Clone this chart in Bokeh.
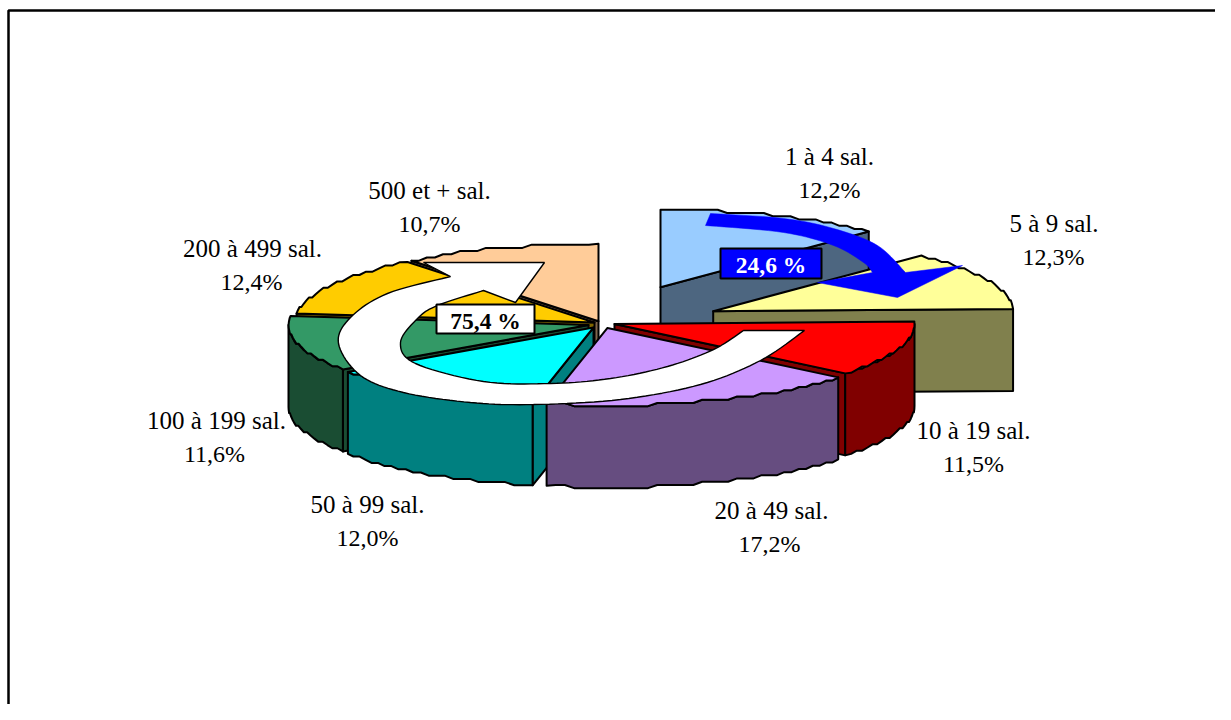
import numpy as np
from bokeh.plotting import figure
from bokeh.models import Range1d
from bokeh.core.properties import value
from bokeh.embed import file_html
from bokeh.resources import INLINE

categories = ["1 à 4 sal.", "5 à 9 sal.", "10 à 19 sal.", "20 à 49 sal.",
              "50 à 99 sal.", "100 à 199 sal.", "200 à 499 sal.", "500 et + sal."]
shares = [12.2, 12.3, 11.5, 17.2, 12.0, 11.6, 12.4, 10.7]
share_labels = ["12,2%", "12,3%", "11,5%", "17,2%", "12,0%", "11,6%", "12,4%", "10,7%"]
group_labels = ["24,6 %", "75,4 %"]

top_colors = ["#99CCFF", "#FFFF99", "#FF0000", "#CC99FF", "#00FFFF", "#339966", "#FFCC00", "#FFCC99"]
wall_colors = ["#4D6680", "#80804D", "#800000", "#664D80", "#008080", "#1A4D33", "#806600", "#80664D"]

# Exploded position of each slice's apex on the page
apex_x = [660, 712.7, 614, 607, 593, 588, 594, 598]
apex_y = [286.7, 310.7, 323.4, 327.4, 327, 324.5, 322, 320.7]
label_x = [829, 1053.5, 973, 771, 367, 216, 252, 429]
label_y = [156, 223, 430, 510, 504, 420, 248, 190]
pct_x = [829, 1053, 973, 769, 367, 214, 251, 429]
RX, RY, H = 300, 77.4, 82
SNAP = 3.2  # the source's rims are stepped, not smooth
paint_order = [7, 0, 6, 1, 5, 2, 4, 3]

p = figure(width=1215, height=704, x_range=Range1d(0, 1215), y_range=Range1d(704, 0),
           output_backend="svg", toolbar_location=None, min_border=0)
p.axis.visible = False
p.grid.visible = False
p.outline_line_color = None
p.background_fill_color = "white"
p.border_fill_color = "white"

# frame (only its top and left edges fall inside the picture)
p.line([8, 8, 1215], [720, 10, 10], line_color="black", line_width=2.5)


def rim(cx, cy, a0, a1, n=None):
    if n is None:
        n = max(int(abs(a1 - a0) * np.radians(RX) / 9), 4)
    t = np.radians(np.linspace(a0, a1, n))
    xs, ys = cx + RX * np.sin(t), cy - RY * np.cos(t)
    if n > 1:
        ys[1:-1] = np.round((ys[1:-1] - ys[0]) / SNAP) * SNAP + ys[0]
    return xs, ys


def shape(xs, ys, fill):
    p.patch(list(xs), list(ys), fill_color=fill, line_color="black", line_width=2, line_join="round")


edges = np.concatenate([[0], np.cumsum(shares)]) / sum(shares) * 360
for i in paint_order:
    a0, a1 = edges[i], edges[i + 1]
    cx, cy = apex_x[i], apex_y[i]
    wall, top = wall_colors[i], top_colors[i]
    # radial walls that face the viewer
    for a, visible in ((a0, np.sin(np.radians(a0)) < 0), (a1, np.sin(np.radians(a1)) > 0)):
        if visible:
            ex, ey = rim(cx, cy, a, a, 1)
            shape([cx, ex[0], ex[0], cx], [cy, ey[0], ey[0] + H, cy + H], wall)
    # outer wall
    lo, hi = max(a0, 90), min(a1, 270)
    if hi > lo:
        rx, ry = rim(cx, cy, lo, hi)
        shape(np.r_[rx, rx[::-1]], np.r_[ry, ry[::-1] + H], wall)
    # top face
    rx, ry = rim(cx, cy, a0, a1)
    shape(np.r_[cx, rx], np.r_[cy, ry], top)


def smooth(pts, n=10):
    """Catmull-Rom curve through hand-read outline points."""
    P = np.array([pts[0]] + list(pts) + [pts[-1]], float)
    out = []
    for k in range(1, len(P) - 2):
        for s in np.linspace(0, 1, n, endpoint=False):
            out.append(0.5 * ((2 * P[k]) + (P[k + 1] - P[k - 1]) * s
                              + (2 * P[k - 1] - 5 * P[k] + 4 * P[k + 1] - P[k + 2]) * s ** 2
                              + (3 * P[k] - P[k - 1] - 3 * P[k + 1] + P[k + 2]) * s ** 3))
    out.append(P[-2])
    return np.array(out)


# white arrow: 75,4 %
w_outer = smooth([(804, 330), (760, 360), (700, 384), (620, 399), (533, 404), (470, 402), (403, 392),
                  (360, 375), (338, 343), (350, 317), (387, 293), (450, 276)])
w_inner = smooth([(483, 290), (437, 305), (417, 318), (400, 342), (415, 363), (483, 381), (550, 383),
                  (610, 378), (667, 366), (713, 349), (743, 330)])
w_head = np.array([(423, 262), (544, 262), (515, 302)])
w = np.vstack([w_outer, w_head, w_inner])
p.patch(w[:, 0], w[:, 1], fill_color="white", line_color="black", line_width=1.4)

# blue arrow: 24,6 %
b_outer = smooth([(710, 213), (783, 218), (833, 228), (877, 245), (905, 272)])
b_inner = smooth([(872, 272), (863, 262), (833, 245), (783, 232), (705, 225)])
b_head = np.array([(962, 265), (897, 297), (817, 282)])
b = np.vstack([b_outer, b_head, b_inner])
p.patch(b[:, 0], b[:, 1], fill_color="#0000FF", line_color="#0000FF", line_width=0.5)

# boxed totals
p.patch([720, 821, 821, 720], [248, 248, 278, 278], fill_color="#0000FF", line_color="black", line_width=2)
p.patch([436, 534, 534, 436], [304, 304, 333, 333], fill_color="white", line_color="black", line_width=2)
FONT = value("Liberation Serif")
p.text([770.5], [264], text=[group_labels[0]], text_color="white", text_font=FONT, text_font_size="23.5px",
       text_font_style="bold", text_align="center", text_baseline="middle")
p.text([485], [320], text=[group_labels[1]], text_color="black", text_font=FONT, text_font_size="23.5px",
       text_font_style="bold", text_align="center", text_baseline="middle")

# slice labels
p.text(label_x, label_y, text=categories, text_color="black", text_font=FONT, text_font_size="25px",
       text_align="center", text_baseline="middle")
p.text(pct_x, [y + 33 for y in label_y], text=share_labels, text_color="black", text_font=FONT,
       text_font_size="24px", text_align="center", text_baseline="middle")

open("out.html", "w").write(file_html(p, INLINE))
